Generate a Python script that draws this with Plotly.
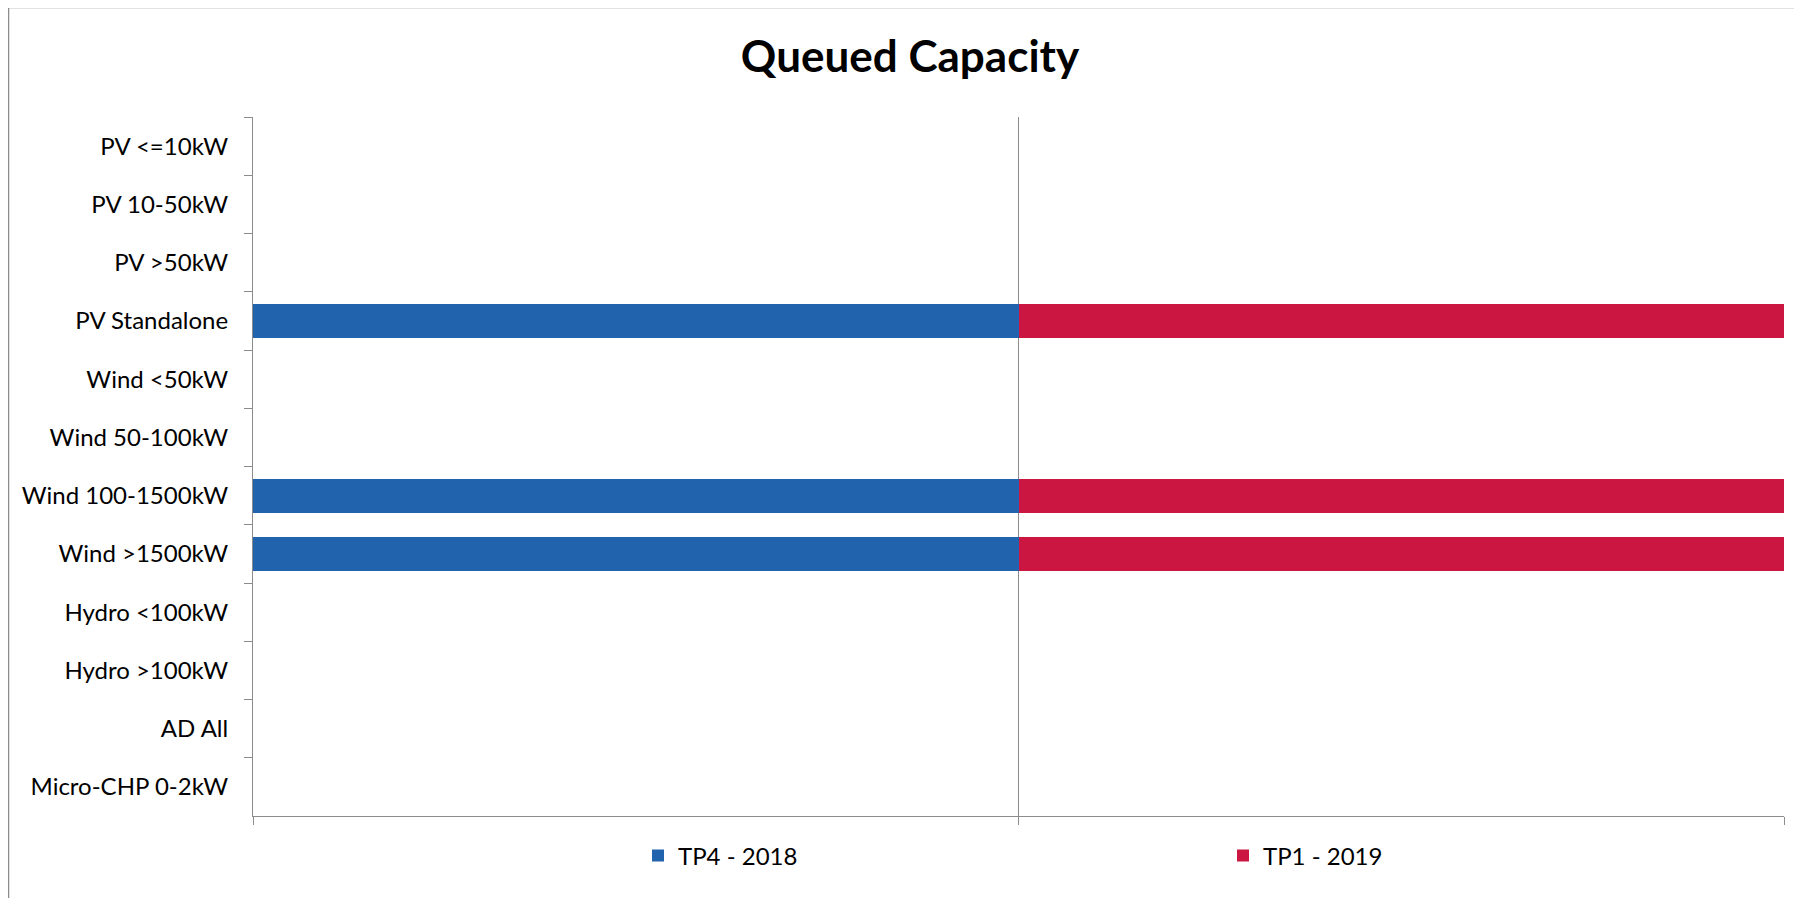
import plotly.graph_objects as go

categories = ["PV <=10kW", "PV 10-50kW", "PV >50kW", "PV Standalone", "Wind <50kW",
              "Wind 50-100kW", "Wind 100-1500kW", "Wind >1500kW", "Hydro <100kW",
              "Hydro >100kW", "AD All", "Micro-CHP 0-2kW"]
tp4_2018 = [0, 0, 0, 1, 0, 0, 1, 1, 0, 0, 0, 0]
tp1_2019 = [0, 0, 0, 1, 0, 0, 1, 1, 0, 0, 0, 0]
series_names = ["TP4 - 2018", "TP1 - 2019"]
title_text = "Queued Capacity"

W, H = 1786, 890
L, R, T, B = 245, 10, 109, 82
pw, ph = W - L - R, H - T - B

def px_x(x):
    return (x - L) / pw

def px_y(y):
    return (H - B - y) / ph

FONT = "Lato, Carlito, Calibri, sans-serif"
GREY = "#8c8c8c"

fig = go.Figure()
fig.add_trace(go.Bar(y=categories, x=tp4_2018, orientation="h", name=series_names[0],
                     legendwidth=540,
                     marker=dict(color="#2263AE", line=dict(width=0))))
fig.add_trace(go.Bar(y=categories, x=tp1_2019, orientation="h", name=series_names[1],
                     legendwidth=160,
                     marker=dict(color="#CC1642", line=dict(width=0))))

fig.update_layout(
    width=W, height=H,
    margin=dict(l=L, r=R, t=T, b=B, pad=0, autoexpand=False),
    barmode="stack", bargap=0.42,
    plot_bgcolor="white", paper_bgcolor="white",
    font=dict(family=FONT, size=24, color="#000000"),
    title=dict(text="<b>" + title_text + "</b>", x=902 / W, xref="container", xanchor="center",
               y=1 - 49 / H, yref="container", yanchor="middle",
               font=dict(family=FONT, size=44, color="#000000")),
    xaxis=dict(range=[0, 2], dtick=1, tick0=0, showticklabels=False, showgrid=True,
               gridcolor=GREY, gridwidth=1, zeroline=False, showline=True, linecolor=GREY,
               linewidth=1, ticks="outside", ticklen=8, tickcolor=GREY, fixedrange=True),
    yaxis=dict(autorange="reversed", type="category", showgrid=False, showline=True,
               linecolor=GREY, linewidth=1, ticks="outside", ticklen=8, tickcolor=GREY,
               tickson="boundaries", ticklabelstandoff=19,
               tickfont=dict(family=FONT, size=24, color="#000000")),
    legend=dict(orientation="h", x=px_x(630), xanchor="left", y=px_y(848), yanchor="middle",
                font=dict(family=FONT, size=24, color="#000000"),
                bgcolor="rgba(0,0,0,0)", traceorder="normal"),
    showlegend=True,
)

# chart-area border (partly cropped at right and bottom in the reference)
fig.add_shape(type="rect", xref="paper", yref="paper",
              x0=px_x(0.5), x1=px_x(W + 40), y0=px_y(H + 40), y1=px_y(-0.5),
              line=dict(color=GREY, width=1.5), fillcolor="rgba(0,0,0,0)", layer="below")

fig.write_html("out.html")
